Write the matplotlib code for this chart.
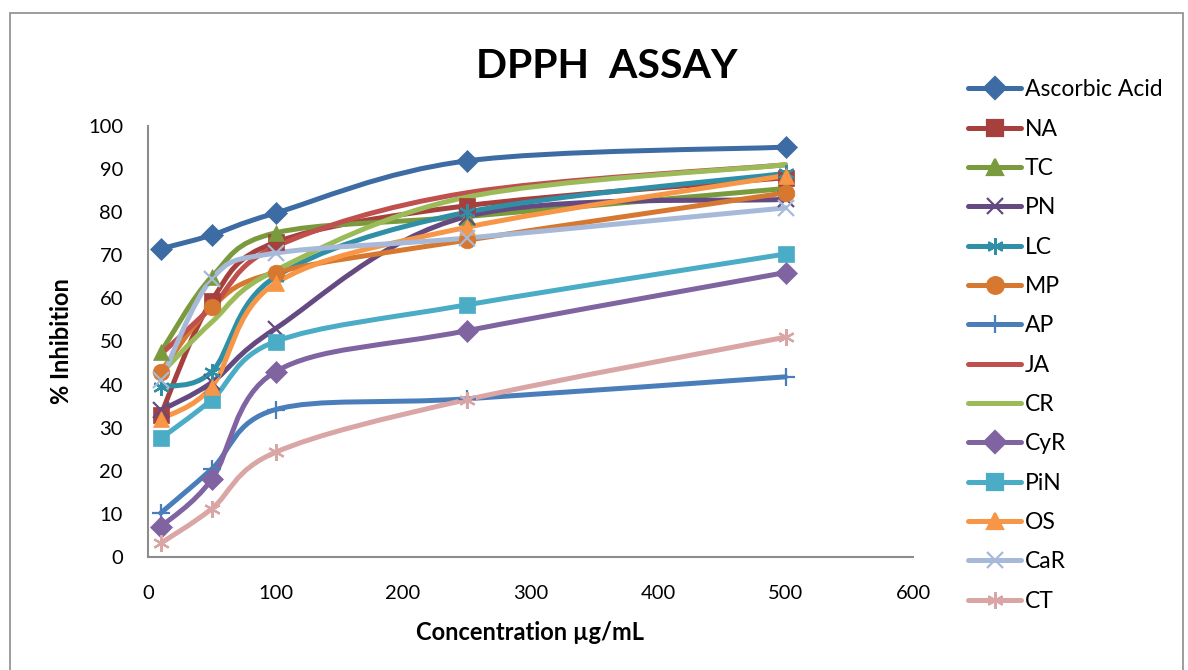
import numpy as np
import matplotlib.pyplot as plt
from matplotlib.path import Path
from matplotlib.patches import PathPatch, Rectangle
from matplotlib.lines import Line2D

plt.rcParams['font.family'] = ['Lato', 'DejaVu Sans']

conc = [10, 50, 100, 250, 500]

ascorbic = [71.5, 74.7, 79.8, 91.9, 95.1]
na = [33.0, 59.5, 73.0, 81.5, 88.0]
tc = [47.5, 65.0, 75.2, 79.0, 85.5]
pn = [34.0, 40.5, 53.0, 79.0, 83.0]
lc = [39.5, 43.0, 65.0, 80.0, 89.0]
mp = [43.0, 58.0, 66.0, 73.5, 84.5]
ap = [10.2, 20.4, 34.2, 36.7, 41.8]
ja = [47.0, 58.0, 72.0, 84.5, 91.0]
cr = [42.5, 54.5, 66.5, 83.5, 91.0]
cyr = [7.0, 18.0, 43.0, 52.5, 66.0]
pin = [27.5, 36.5, 50.0, 58.5, 70.3]
os_ = [32.0, 39.5, 63.5, 76.5, 88.5]
car = [41.0, 64.5, 70.5, 74.0, 81.0]
ct = [3.2, 11.2, 24.3, 36.5, 51.0]

names = ['Ascorbic Acid', 'NA', 'TC', 'PN', 'LC', 'MP', 'AP', 'JA', 'CR',
         'CyR', 'PiN', 'OS', 'CaR', 'CT']
values = [ascorbic, na, tc, pn, lc, mp, ap, ja, cr, cyr, pin, os_, car, ct]

ASTER = (6, 2, 0)
colors = ['#3D6BA3', '#A5403D', '#7A9A3E', '#654A82', '#2E8FA6', '#D6782F',
          '#4A7EBB', '#C0504D', '#9BBB59', '#8064A2', '#4BACC6', '#F79646',
          '#A7B9D9', '#D9A6A5']
markers = ['D', 's', '^', 'x', ASTER, 'o', '+', None, None,
           'D', 's', '^', 'x', ASTER]
msizes = [11, 12, 12, 11, 12, 12, 13, 0, 0, 11, 12, 12, 11, 12]


def smooth_path(xs, ys):
    # excel-like smoothed line: catmull-rom as cubic bezier segments
    pts = np.column_stack([xs, ys]).astype(float)
    n = len(pts)
    verts = [pts[0]]
    codes = [Path.MOVETO]
    for i in range(n - 1):
        p0 = pts[max(i - 1, 0)]
        p1 = pts[i]
        p2 = pts[i + 1]
        p3 = pts[min(i + 2, n - 1)]
        verts += [p1 + (p2 - p0) / 6, p2 - (p3 - p1) / 6, p2]
        codes += [Path.CURVE4] * 3
    return Path(verts, codes)


fig = plt.figure(figsize=(11.88, 6.70), dpi=100)
fig.patches.append(Rectangle((10 / 1188, -0.05), 1173 / 1188, (670 - 13) / 670 + 0.05,
                             transform=fig.transFigure, fill=False,
                             edgecolor='#8C8C8C', lw=1.2))

ax = fig.add_axes([148 / 1188, 113 / 670, 765 / 1188, 431 / 670])

handles = []
for name, vals, c, m, ms in zip(names, values, colors, markers, msizes):
    ax.add_patch(PathPatch(smooth_path(conc, vals), fill=False, edgecolor=c,
                           lw=3.6, capstyle='round', joinstyle='round'))
    if m is not None:
        filled = m not in ('x', '+', ASTER)
        ax.plot(conc, vals, linestyle='none', marker=m, markersize=ms,
                color=c, markeredgewidth=1.6 if not filled else 0.5)
    handles.append(Line2D([], [], color=c, lw=3.6, marker=m, markersize=ms,
                          markeredgewidth=1.6, solid_capstyle='round'))

ax.set_xlim(0, 600)
ax.set_ylim(0, 100)
ax.set_xticks(range(0, 601, 100))
ax.set_yticks(range(0, 101, 10))
for s in ['top', 'right']:
    ax.spines[s].set_visible(False)
for s in ['left', 'bottom']:
    ax.spines[s].set_color('#8C8C8C')
    ax.spines[s].set_linewidth(1.5)
ax.tick_params(axis='x', length=0, pad=20, labelsize=14.5)
ax.tick_params(axis='y', length=0, pad=18, labelsize=14.5)

ax.set_xlabel('Concentration µg/mL', fontsize=17, fontweight='bold', labelpad=14)
ax.set_ylabel('% Inhibition', fontsize=17, fontweight='bold', labelpad=11)
fig.text(607 / 1188, 1 - 67 / 670, 'DPPH  ASSAY', fontsize=29.5, fontweight='bold',
         ha='center', va='center')

fig.legend(handles, names, loc='upper left', bbox_to_anchor=(957 / 1188, 1 - 68 / 670),
           frameon=False, fontsize=16.5, handlelength=2.3, handletextpad=0.15,
           labelspacing=0.80, borderpad=0)

fig.savefig('out.png', dpi=100)
